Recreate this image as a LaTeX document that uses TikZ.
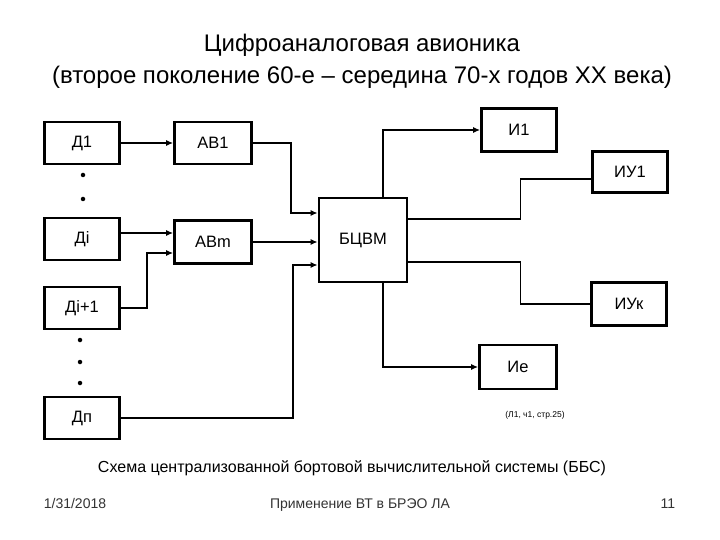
\documentclass[tikz,border=0pt]{standalone}
\usepackage{fontspec}
\setmainfont{Liberation Sans}
\usetikzlibrary{positioning, arrows.meta}

\begin{document}
\begin{tikzpicture}[
        x=1pt, y=-1pt,
        blok/.style={rectangle, draw, line width=2.6pt, minimum width=75pt, minimum height=42pt, align=center, font=\fontsize{16.5}{18}\selectfont},
        cvm/.style={blok, minimum width=88pt, minimum height=84pt},
        arrow/.style={-{Latex[length=7pt, width=6pt]}, line width=1.5pt},
        link/.style={line width=1.5pt},
        dot/.style={circle, fill, inner sep=0pt, minimum size=4.5pt},
        title/.style={align=center, font=\fontsize{24}{32}\selectfont},
        caption/.style={font=\fontsize{16}{18}\selectfont},
        footer/.style={anchor=base, font=\fontsize{14}{16}\selectfont, text=black!80}
    ]
%
    \useasboundingbox (0,0) rectangle (720,540);
%
    % Titles
    \node[title] (head) at (362,61) {Цифроаналоговая авионика\\(второе поколение 60-е – середина 70-х годов XX века)};
    \node[caption] (capt) at (352,468) {Схема централизованной бортовой вычислительной системы (ББС)};
    \node[font=\fontsize{8.5}{10}\selectfont] (src) at (535,415) {(Л1, ч1, стр.25)};
    \node[footer] (date) at (75,508) {1/31/2018};
    \node[footer] (subj) at (360,508) {Применение ВТ в БРЭО ЛА};
    \node[footer] (page) at (668,508) {11};
%
    % Sensors
    \node[blok] (d1) at (82,143) {Д1};
    \node[blok] (di) at (82,239) {Дi};
    \node[blok] (di1) at (82,308) {Дi+1};
    \node[blok] (dn) at (82,418) {Дп};
    \node[dot] (p1) at (83,175) {};
    \node[dot] (p2) at (83,199) {};
    \node[dot] (p3) at (80,340) {};
    \node[dot] (p4) at (80,362) {};
    \node[dot] (p5) at (80,383) {};
%
    % Converters and computer
    \node[blok, minimum width=77pt] (av1) at (213,143) {АВ1};
    \node[blok, minimum width=77pt, minimum height=43pt] (avm) at (213,242) {АВm};
    \node[cvm] (bcvm) at (363,240) {БЦВМ};
%
    % Indicators and actuators
    \node[blok, minimum height=43pt] (i1) at (519,130) {И1};
    \node[blok, minimum height=41pt] (iu1) at (630,172) {ИУ1};
    \node[blok, minimum height=43pt] (iuk) at (629,304) {ИУк};
    \node[blok, minimum width=77pt, minimum height=44pt] (ie) at (518,367) {Ие};
%
    % Arrows
    \draw[arrow] (d1) -- (av1);
    \draw[arrow] ([yshift=6pt]di.east) -- ([yshift=6pt]di.east -| avm.west);
    \draw[arrow] (di1.east) -- ++(26,0) |- ([yshift=-11pt]avm.west);
    \draw[arrow] (av1.east) -- ++(38,0) |- ([yshift=27pt]bcvm.west);
    \draw[arrow] (avm.east) -- (avm.east -| bcvm.west);
    \draw[arrow] (dn.east) -- ++(172,0) |- ([yshift=-25pt]bcvm.west);
    \draw[arrow] ([xshift=20pt]bcvm.north) |- (i1.west);
    \draw[arrow] ([xshift=20pt]bcvm.south) |- (ie.west);
    \draw[link] ([yshift=21pt]bcvm.east) -- ++(112,0) |- ([yshift=-7pt]iu1.west);
    \draw[link] ([yshift=-22pt]bcvm.east) -- ++(112,0) |- (iuk.west);
%
\end{tikzpicture}
\end{document}
